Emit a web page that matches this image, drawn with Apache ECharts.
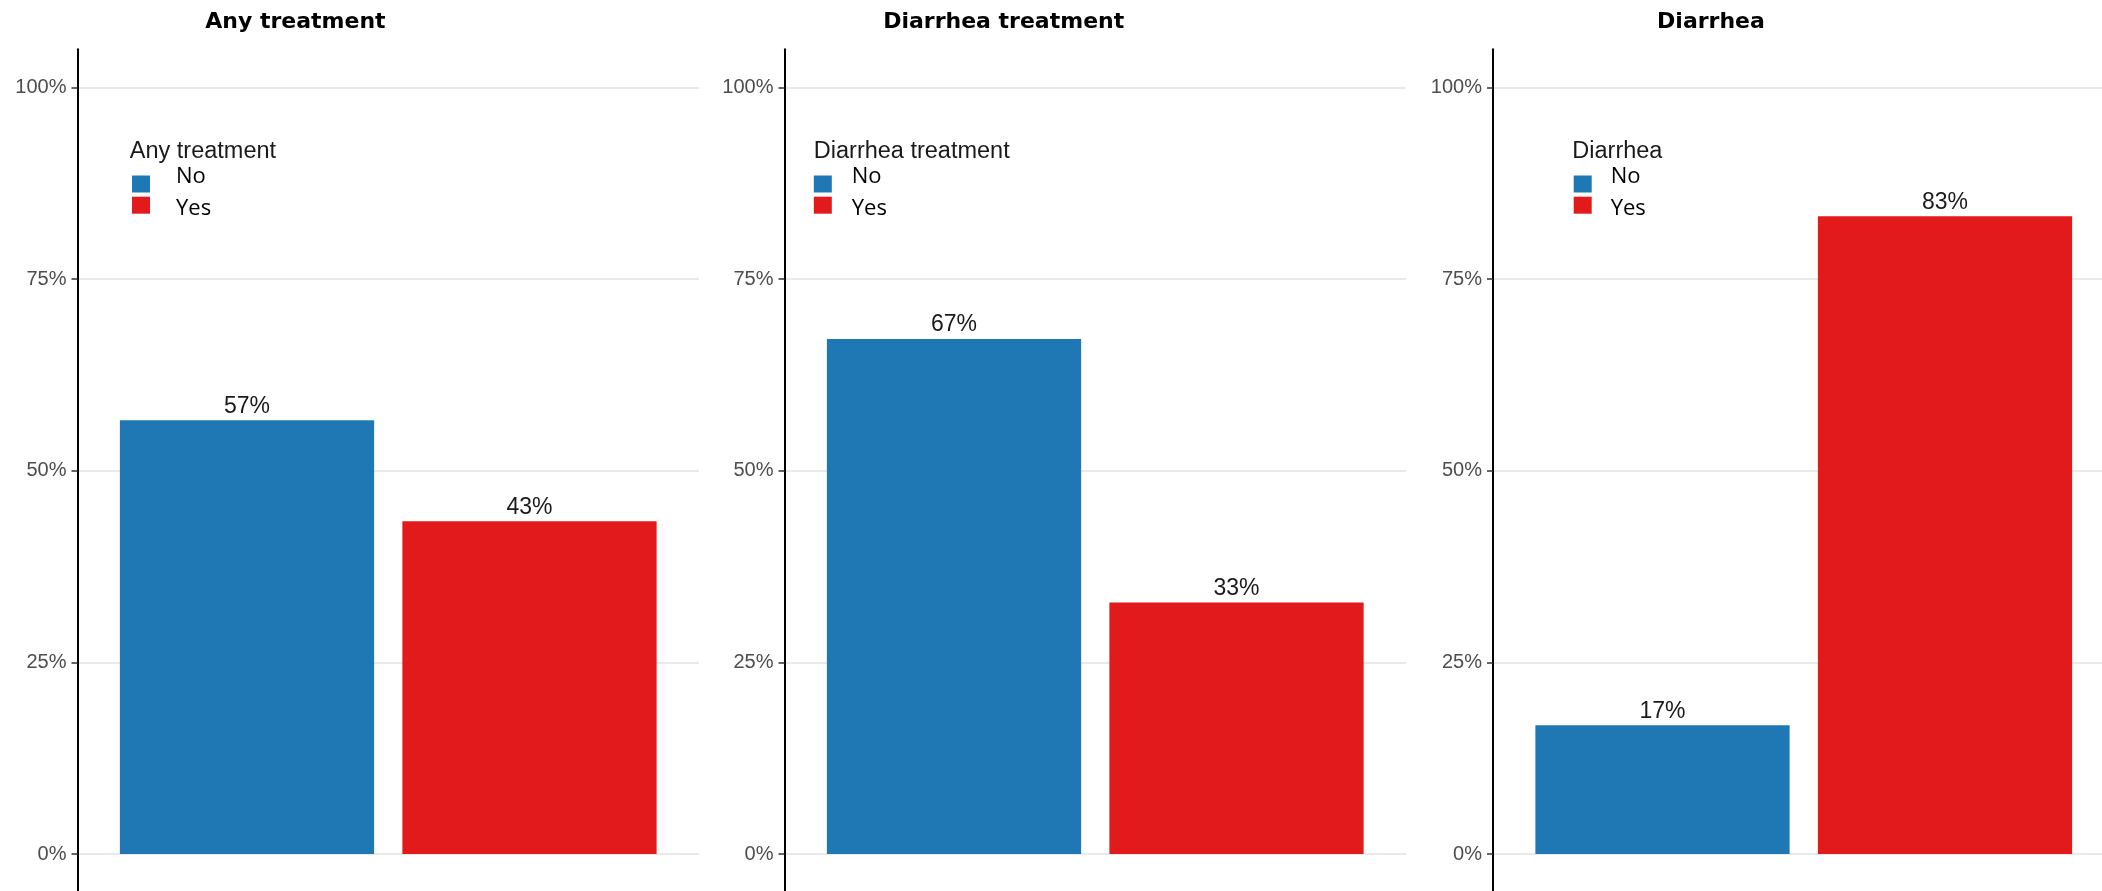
<!DOCTYPE html>
<html>
<head>
<meta charset="utf-8">
<script src="https://cdn.jsdelivr.net/npm/echarts@6/dist/echarts.min.js"></script>
<style>
html,body{margin:0;padding:0;background:#fff;}
#chart{width:2102px;height:891px;}
</style>
</head>
<body>
<div id="chart"></div>
<script>
// ---- data ----
const categories = ['No', 'Yes'];
const panelTitles = ['Any treatment', 'Diarrhea treatment', 'Diarrhea'];
const noValues = [56.6, 67.2, 16.8];
const yesValues = [43.4, 32.8, 83.2];
const yTickStep = 25;
const yMax = 100;

// ---- layout ----
const canvasWidth = 2102;
const panelLeft = [77.5, 784.5, 1493];
const plotWidth = 621.5;
const xMin = 0.4, xMaxFull = 2.6;
const unitPx = plotWidth / (xMaxFull - xMin);
const plotTop = 87.5;
const plotHeight = 766.5;
const expand = 0.05 * plotHeight;
const titleX = [295.4, 1003.7, 1711];
const legendTitleX = [129.8, 813.8, 1572.3];
const legendKeyX = [132, 813.8, 1573.7];
const legendTextPad = [21, 15, 14];
const colors = ['#1F78B4', '#E31A1C'];
// vertical padding of legend labels (No sits a bit higher, Yes a bit lower than its key)
const legendVPad = [[0, 14], [7.4, 0]];

const grid = [], xAxis = [], yAxis = [], series = [], legend = [], graphic = [];

panelTitles.forEach((t, i) => {
  const w = Math.min(plotWidth, canvasWidth - panelLeft[i]);
  const xMax = xMin + w / unitPx;
  grid.push({left: panelLeft[i], top: plotTop, width: w, height: plotHeight, containLabel: false});
  grid.push({left: panelLeft[i], top: plotTop - expand, width: w, height: plotHeight + 2 * expand, containLabel: false});
  const gMain = i * 2, gLine = i * 2 + 1;
  xAxis.push({gridIndex: gMain, type: 'value', min: xMin, max: xMax, show: false});
  xAxis.push({gridIndex: gLine, type: 'value', min: 0, max: 1, show: false});
  yAxis.push({
    gridIndex: gMain, type: 'value', min: 0, max: yMax, interval: yTickStep,
    axisLine: {show: false},
    axisTick: {show: true, length: 6, lineStyle: {color: '#333', width: 1.5}},
    axisLabel: {show: true, formatter: '{value}%', margin: 11, color: '#4d4d4d',
      fontSize: 20, fontFamily: 'Liberation Sans, Arial, sans-serif'},
    splitLine: {show: true, lineStyle: {color: '#e2e2e2', width: 1.5}}
  });
  yAxis.push({
    gridIndex: gLine, type: 'value', min: -5, max: 105,
    axisLine: {show: true, lineStyle: {color: '#000', width: 2}},
    axisTick: {show: false}, axisLabel: {show: false}, splitLine: {show: false}
  });
  const vals = [noValues[i], yesValues[i]];
  categories.forEach((c, k) => {
    series.push({
      type: 'bar', name: c, xAxisIndex: gMain, yAxisIndex: gMain,
      data: [[k + 1, vals[k]]],
      barWidth: 0.9 * unitPx, barGap: '-100%',
      itemStyle: {color: colors[k]},
      label: {show: true, position: 'top', distance: 2.5,
        formatter: p => Math.round(p.value[1]) + '%',
        fontSize: 23, color: '#1a1a1a', fontFamily: 'Liberation Sans, Arial, sans-serif'},
      silent: true, animation: false
    });
  });
  const rich = {};
  categories.forEach((c, k) => {
    rich['r' + k] = {fontFamily: 'Open Sans', fontSize: 22, color: '#000', lineHeight: 17,
      padding: [legendVPad[k][0], 0, legendVPad[k][1], legendTextPad[i]]};
  });
  legend.push({
    data: categories.map(c => ({name: c, icon: 'rect'})),
    formatter: name => '{r' + categories.indexOf(name) + '|' + name + '}',
    orient: 'vertical', left: legendKeyX[i], top: 166, padding: 0,
    itemWidth: 18, itemHeight: 17, itemGap: -11.5,
    selectedMode: false,
    textStyle: {fontFamily: 'Open Sans', fontSize: 22, color: '#000', lineHeight: 17, rich}
  });
  graphic.push({
    type: 'text', x: titleX[i], y: 22,
    style: {text: t, font: 'bold 22px "DejaVu Sans"', fill: '#000',
      align: 'center', verticalAlign: 'middle', textAlign: 'center', textVerticalAlign: 'middle'}
  });
  graphic.push({
    type: 'text', x: legendTitleX[i], y: 151.5,
    style: {text: t, font: '23.5px "Liberation Sans"', fill: '#1a1a1a',
      align: 'left', verticalAlign: 'middle', textAlign: 'left', textVerticalAlign: 'middle'}
  });
});

const chart = echarts.init(document.getElementById('chart'), null, {renderer: 'canvas'});
chart.setOption({
  animation: false,
  backgroundColor: '#fff',
  grid, xAxis, yAxis, series, legend, graphic
});
</script>
</body>
</html>
